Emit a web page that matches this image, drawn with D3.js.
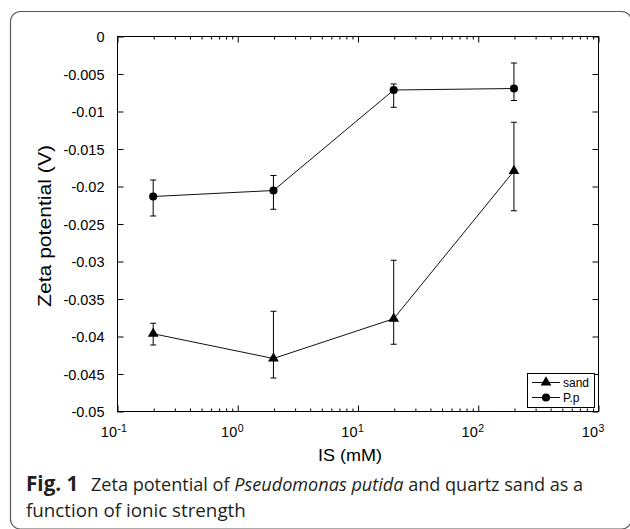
<!DOCTYPE html>
<html>
<head>
<meta charset="utf-8">
<script src="https://cdn.jsdelivr.net/npm/d3@7"></script>
<style>
  html, body { margin: 0; padding: 0; background: #fff; }
  svg { display: block; }
</style>
</head>
<body>
<svg id="chart" width="630" height="529"></svg>
<script>
// ---- Data ----
const ionicStrength = [0.2, 2, 20, 200];           // IS (mM)
const sandZeta  = [-0.0397, -0.0430, -0.0377, -0.0180];
const sandUpper = [-0.0383, -0.0367, -0.0299, -0.0115];
const sandLower = [-0.0412, -0.0456, -0.0411, -0.0233];
const ppZeta    = [-0.0214, -0.0206, -0.0072, -0.0070];
const ppUpper   = [-0.0192, -0.0186, -0.0064, -0.0036];
const ppLower   = [-0.0240, -0.0231, -0.0095, -0.0086];
const seriesNames = ["sand", "P.p"];
const yTickValues = [0, -0.005, -0.01, -0.015, -0.02, -0.025, -0.03, -0.035, -0.04, -0.045, -0.05];
const yTickLabels = ["0", "-0.005", "-0.01", "-0.015", "-0.02", "-0.025", "-0.03", "-0.035", "-0.04", "-0.045", "-0.05"];
const xTickValues = [0.1, 1, 10, 100, 1000];
const xTickExponents = ["-1", "0", "1", "2", "3"];
const xLabel = "IS (mM)";
const yLabel = "Zeta potential (V)";

const svg = d3.select("#chart");
const chartFont = "'Liberation Sans', Arial, sans-serif";

// Frame
svg.append("rect")
  .attr("x", 10.5).attr("y", 11.5)
  .attr("width", 621).attr("height", 517.5)
  .attr("rx", 10).attr("ry", 10)
  .attr("fill", "none").attr("stroke", "#5a5a5a").attr("stroke-width", 1.2);

const plot = { left: 117, right: 598, top: 36, bottom: 411 };

const x = d3.scaleLog().domain([0.1, 1000]).range([plot.left, plot.right]);
const y = d3.scaleLinear().domain([-0.05, 0]).range([plot.bottom, plot.top]);

const g = svg.append("g");

// Axis box
g.append("rect")
  .attr("x", plot.left + 0.5).attr("y", plot.top + 0.5)
  .attr("width", plot.right - plot.left).attr("height", plot.bottom - plot.top)
  .attr("fill", "none").attr("stroke", "#000").attr("stroke-width", 1);

// Minor x ticks
const minor = [];
for (let e = -1; e < 3; e++) for (let m = 2; m <= 9; m++) minor.push(m * Math.pow(10, e));

// Axes via d3 (ticks inward)
const xBottom = d3.axisBottom(x).tickValues(xTickValues).tickSize(-6).tickFormat("");
const xTop = d3.axisTop(x).tickValues(xTickValues).tickSize(-6).tickFormat("");
const xBottomMinor = d3.axisBottom(x).tickValues(minor).tickSize(-3).tickFormat("");
const xTopMinor = d3.axisTop(x).tickValues(minor).tickSize(-3).tickFormat("");
const yLeft = d3.axisLeft(y).tickValues(yTickValues).tickSize(-6)
  .tickFormat((d, i) => yTickLabels[i]).tickPadding(13);
const yRight = d3.axisRight(y).tickValues(yTickValues).tickSize(-6).tickFormat("");

function styleAxis(sel) {
  sel.select(".domain").remove();
  sel.selectAll(".tick line").attr("stroke", "#000").attr("stroke-width", 1);
}
g.append("g").attr("transform", `translate(0.5,${plot.bottom + 0.5})`).call(xBottom).call(styleAxis);
g.append("g").attr("transform", `translate(0.5,${plot.top + 0.5})`).call(xTop).call(styleAxis);
g.append("g").attr("transform", `translate(0.5,${plot.bottom + 0.5})`).call(xBottomMinor).call(styleAxis);
g.append("g").attr("transform", `translate(0.5,${plot.top + 0.5})`).call(xTopMinor).call(styleAxis);
const yl = g.append("g").attr("transform", `translate(${plot.left + 0.5},0.5)`).call(yLeft).call(styleAxis);
yl.selectAll(".tick text")
  .attr("font-family", chartFont).attr("font-size", 14.5).attr("fill", "#000")
  .attr("dy", "0.36em");
g.append("g").attr("transform", `translate(${plot.right + 0.5},0.5)`).call(yRight).call(styleAxis);

// X tick labels: 10 with superscript exponent
xTickValues.forEach((v, i) => {
  g.append("text")
    .attr("font-family", chartFont).attr("fill", "#000")
    .attr("x", x(v)).attr("y", 437).attr("text-anchor", "end")
    .attr("font-size", 14.5).text("10");
  g.append("text")
    .attr("font-family", chartFont).attr("fill", "#000")
    .attr("x", x(v) + 0.5).attr("y", 432)
    .attr("font-size", 10.5).text(xTickExponents[i]);
});

// Axis titles
g.append("text")
  .attr("x", 350).attr("y", 461)
  .attr("text-anchor", "middle")
  .attr("font-family", chartFont).attr("font-size", 16.5).attr("fill", "#000")
  .attr("textLength", 64).attr("lengthAdjust", "spacingAndGlyphs")
  .text(xLabel);
g.append("text")
  .attr("transform", "translate(51,226) rotate(-90)")
  .attr("text-anchor", "middle")
  .attr("font-family", chartFont).attr("font-size", 17.5).attr("fill", "#000")
  .attr("textLength", 162).attr("lengthAdjust", "spacingAndGlyphs")
  .text(yLabel);

// Series
const series = [
  { name: seriesNames[0], vals: sandZeta, up: sandUpper, lo: sandLower, marker: d3.symbolTriangle, size: 50 },
  { name: seriesNames[1], vals: ppZeta, up: ppUpper, lo: ppLower, marker: d3.symbolCircle, size: 52 }
];

const line = d3.line().x(d => x(d[0])).y(d => y(d[1]));

series.forEach(s => {
  const pts = ionicStrength.map((v, i) => [v, s.vals[i]]);
  g.append("path").datum(pts)
    .attr("d", line).attr("fill", "none")
    .attr("stroke", "#111").attr("stroke-width", 1);
  ionicStrength.forEach((v, i) => {
    const cx = x(v), yt = y(s.up[i]), yb = y(s.lo[i]);
    g.append("line").attr("x1", cx).attr("x2", cx).attr("y1", yt).attr("y2", yb)
      .attr("stroke", "#000").attr("stroke-width", 1);
    [yt, yb].forEach(yy => {
      g.append("line").attr("x1", cx - 3).attr("x2", cx + 3).attr("y1", yy).attr("y2", yy)
        .attr("stroke", "#000").attr("stroke-width", 1);
    });
  });
  g.selectAll(null).data(pts).enter().append("path")
    .attr("d", d3.symbol().type(s.marker).size(s.size))
    .attr("transform", d => `translate(${x(d[0])},${y(d[1])})`)
    .attr("fill", "#000");
});

// Legend
const lg = g.append("g");
lg.append("rect").attr("x", 527.5).attr("y", 373.5).attr("width", 67).attr("height", 34)
  .attr("fill", "#fff").attr("stroke", "#000").attr("stroke-width", 1);
series.forEach((s, i) => {
  const ly = 382.5 + i * 15;
  lg.append("line").attr("x1", 532).attr("x2", 560).attr("y1", ly).attr("y2", ly)
    .attr("stroke", "#111").attr("stroke-width", 1);
  lg.append("path").attr("d", d3.symbol().type(s.marker).size(s.size)())
    .attr("transform", `translate(546,${ly})`).attr("fill", "#000");
  lg.append("text").attr("x", 563).attr("y", ly).attr("dy", "0.35em")
    .attr("font-family", chartFont).attr("font-size", 12).attr("fill", "#000")
    .text(s.name);
});

// Caption
const capFont = "'Open Sans', 'Noto Sans', sans-serif";
const cap2 = svg.append("text").attr("x", 26).attr("y", 516.5)
  .attr("font-family", capFont).attr("font-size", 16).attr("fill", "#231f20")
  .text("function of ionic strength");
const fs = 16 * 220 / cap2.node().getComputedTextLength();
cap2.attr("font-size", fs);

svg.append("text").attr("x", 26).attr("y", 491)
  .attr("font-family", capFont).attr("font-size", fs * 1.1).attr("font-weight", "bold")
  .attr("fill", "#231f20").text("Fig. 1");
const cap1 = svg.append("text").attr("x", 91).attr("y", 491)
  .attr("font-family", capFont).attr("font-size", fs).attr("fill", "#231f20");
cap1.append("tspan").text("Zeta potential of ");
cap1.append("tspan").attr("font-style", "italic").text("Pseudomonas putida");
cap1.append("tspan").text(" and quartz sand as a");
const fs1 = fs * 492 / cap1.node().getComputedTextLength();
cap1.attr("font-size", fs1);
</script>
</body>
</html>
